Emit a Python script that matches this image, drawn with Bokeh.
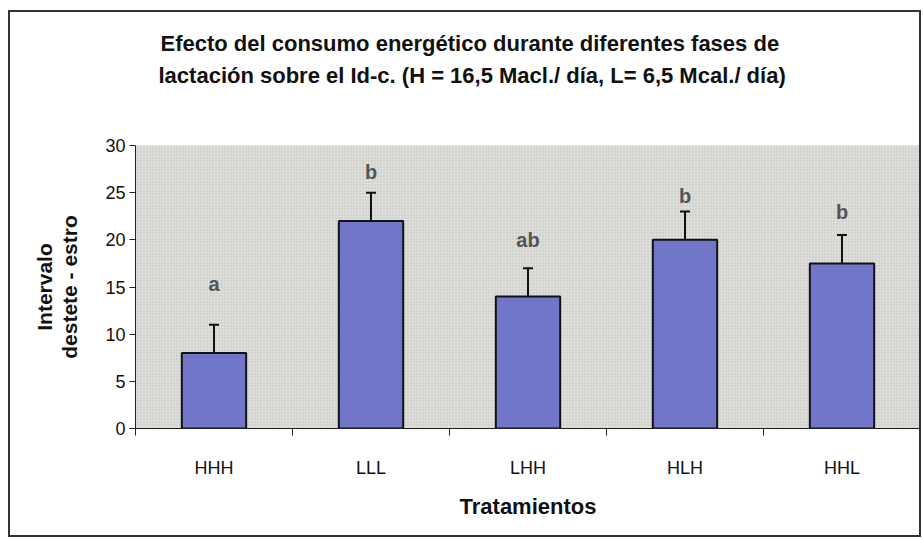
import numpy as np
from bokeh.plotting import figure
from bokeh.models import (ColumnDataSource, Range1d, FixedTicker, Whisker, TeeHead,
                          LabelSet, Title, BoxAnnotation)
from bokeh.core.properties import value
from bokeh.embed import file_html
from bokeh.resources import INLINE

categories = ["HHH", "LLL", "LHH", "HLH", "HHL"]
means = [8.0, 22.0, 14.0, 20.0, 17.5]
errors = [3.0, 3.0, 3.0, 3.0, 3.0]
letters = ["a", "b", "ab", "b", "b"]
letter_y = [15.3, 27.2, 20.0, 24.6, 22.9]
y_ticks = [0, 5, 10, 15, 20, 25, 30]

title_lines = ["Efecto del consumo energético durante diferentes fases de",
               "lactación sobre el Id-c. (H = 16,5 Macl./ día, L= 6,5 Mcal./ día)"]
y_label_lines = ["Intervalo", "destete - estro"]
x_title = "Tratamientos"

FONT = "Liberation Sans"

xpos = np.arange(len(categories)) + 0.5
src = ColumnDataSource(dict(
    x=xpos, top=means,
    upper=[m + e for m, e in zip(means, errors)],
    lower=[m - e for m, e in zip(means, errors)],
    letter=letters, ly=letter_y,
))

W, H = 913, 527
p = figure(width=W, height=H, output_backend="svg", toolbar_location=None,
           x_range=Range1d(0, len(categories)), y_range=Range1d(0, 30),
           min_border_left=125, min_border_right=3, min_border_top=133,
           min_border_bottom=111)
p.title.visible = False
p.styles = {"border": "2px solid #333", "box-sizing": "border-box",
            "margin-left": "8px", "margin-top": "10px"}
p.background_fill_color = "#d8d8d6"
p.border_fill_color = "white"
p.outline_line_color = None
p.grid.visible = False

# texture of the plotting area
p.add_layout(BoxAnnotation(fill_color="#dededb", fill_alpha=1.0,
                           hatch_pattern="dot", hatch_color="#b4b4b1",
                           hatch_scale=3, hatch_alpha=0.8, line_color=None,
                           level="underlay"))

p.vbar(x="x", top="top", width=0.41, bottom=0, source=src,
       fill_color="#7276cb", line_color="#111111", line_width=2)

p.add_layout(Whisker(source=src, base="x", upper="upper", lower="lower",
                     line_color="#111111", line_width=2,
                     upper_head=TeeHead(size=10, line_color="#111111", line_width=2),
                     lower_head=TeeHead(size=10, line_color="#111111", line_width=2)))

p.add_layout(LabelSet(x="x", y="ly", text="letter", source=src,
                      text_align="center", text_baseline="middle",
                      text_font=value(FONT), text_font_size="20px",
                      text_font_style="bold", text_color="#555555"))

# axes
p.yaxis.ticker = FixedTicker(ticks=y_ticks)
p.yaxis.major_label_text_font = FONT
p.yaxis.major_label_text_font_size = "18px"
p.yaxis.major_label_text_color = "#111111"
p.yaxis.major_tick_out = 6
p.yaxis.major_tick_in = 0
p.yaxis.minor_tick_line_color = None
p.yaxis.axis_line_color = "#222222"
p.yaxis.major_tick_line_color = "#222222"
p.yaxis.major_label_standoff = 4

p.xaxis.ticker = FixedTicker(ticks=list(xpos), minor_ticks=list(range(len(categories) + 1)))
p.xaxis.major_label_overrides = {float(x): c for x, c in zip(xpos, categories)}
p.xaxis.major_tick_line_color = None
p.xaxis.minor_tick_out = 7
p.xaxis.minor_tick_in = 0
p.xaxis.minor_tick_line_color = "#222222"
p.xaxis.axis_line_color = "#222222"
p.xaxis.major_label_text_font = FONT
p.xaxis.major_label_text_font_size = "18px"
p.xaxis.major_label_text_color = "#111111"
p.xaxis.major_label_standoff = 22
p.xaxis.axis_label = x_title
p.xaxis.axis_label_text_font = FONT
p.xaxis.axis_label_text_font_size = "22px"
p.xaxis.axis_label_text_font_style = "bold"
p.xaxis.axis_label_text_color = "#111111"
p.xaxis.axis_label_standoff = 13


def spacer(size_px, standoff):
    return Title(text=" ", standoff=standoff, text_font=FONT,
                 text_font_size=f"{size_px}px", text_color="white")


# title: panels stack outward from the frame
p.add_layout(spacer(10, 42), "above")
for line, off in ((title_lines[1], 23), (title_lines[0], 25)):
    p.add_layout(Title(text=line, align="left", offset=off, standoff=5,
                       text_font=FONT, text_font_size="22px",
                       text_font_style="bold", text_color="#111111"), "above")

# y axis label: two rotated lines, stacked outward from the axis
p.add_layout(spacer(10, 9), "left")
for line in (y_label_lines[1], y_label_lines[0]):
    p.add_layout(Title(text=line, align="center", standoff=0,
                       text_font=FONT, text_font_size="21px",
                       text_font_style="bold", text_color="#111111"), "left")

open("out.html", "w").write(file_html(p, INLINE))
